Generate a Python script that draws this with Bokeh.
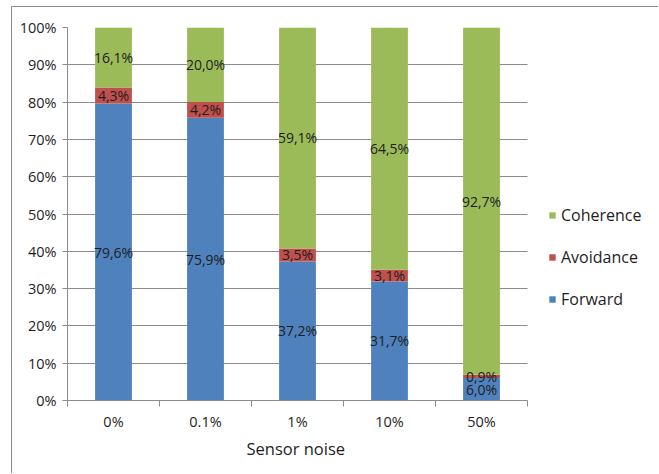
import numpy as np
from bokeh.plotting import figure
from bokeh.models import (ColumnDataSource, FixedTicker, NumeralTickFormatter,
                          Legend, LegendItem, Range1d, Grid, Title)
from bokeh.core.properties import value
from bokeh.embed import file_html
from bokeh.resources import INLINE

# Share of behaviour (in %) per sensor noise level
noise_levels = ["0%", "0.1%", "1%", "10%", "50%"]
forward = [79.6, 75.9, 37.2, 31.7, 6.0]
avoidance = [4.3, 4.2, 3.5, 3.1, 0.9]
coherence = [16.1, 20.0, 59.1, 64.5, 92.7]

series_names = ["Forward", "Avoidance", "Coherence"]
colors = ["#4F81BD", "#C0504D", "#9BBB59"]
y_ticks = [0.0, 0.1, 0.2, 0.3, 0.4, 0.5, 0.6, 0.7, 0.8, 0.9, 1.0]
x_title = "Sensor noise"

FONT = "Open Sans"
TEXT = "#1e1e1e"
GRID = "#8c8c8c"

# canvas layout (pixels)
W, H = 647, 467
LEFT, TOP, BOTTOM, RIGHT = 55, 20, 74, 4
PLOT_W = 460                      # width used by the bars / axis
frame_w = W - LEFT - RIGHT        # frame also hosts the legend
n = len(noise_levels)
x_end = n * frame_w / PLOT_W

# positions of the categories on a numeric axis (centres of unit slots)
xs = np.arange(n) + 0.5
vals = np.array([forward, avoidance, coherence], dtype=float)
shares = vals / vals.sum(axis=0)           # 100 % stacked
bottoms = np.vstack([np.zeros(n), np.cumsum(shares, axis=0)[:-1]])
centres = bottoms + shares / 2

source = ColumnDataSource(dict(x=xs, **{nm: shares[i] for i, nm in enumerate(series_names)}))

p = figure(width=W, height=H, output_backend="svg", toolbar_location=None,
           x_range=Range1d(0, x_end), y_range=Range1d(0, 1),
           min_border_left=LEFT, min_border_top=TOP, min_border_right=RIGHT,
           min_border_bottom=BOTTOM)
p.margin = (6, 0, 0, 11)
p.styles = {"border-top": "1px solid #8c8c8c", "border-left": "1px solid #8c8c8c"}
p.outline_line_color = None
p.background_fill_color = "white"
p.border_fill_color = "white"

# horizontal gridlines limited to the bar area
p.xgrid.visible = False
p.ygrid.visible = False
if "cross_bounds" in Grid.properties():
    g = Grid(dimension=1, ticker=FixedTicker(ticks=y_ticks), cross_bounds=(0, n),
             grid_line_color=GRID, grid_line_width=1)
    p.add_layout(g, "center")
else:
    p.segment(x0=[0] * len(y_ticks), x1=[n] * len(y_ticks), y0=y_ticks, y1=y_ticks,
              line_color=GRID, line_width=1)

bars = p.vbar_stack(series_names, x="x", width=0.4, source=source,
                    color=colors, line_color=None)

# value labels, centred in each segment
lab_x, lab_y, lab_t = [], [], []
for i in range(len(series_names)):
    for j in range(n):
        lab_x.append(xs[j])
        lab_y.append(centres[i, j])
        lab_t.append(f"{vals[i, j]:.1f}".replace(".", ",") + "%")
p.text(x=lab_x, y=lab_y, text=lab_t, text_align="center", text_baseline="middle",
       text_font=value(FONT), text_font_size="14px", text_color=TEXT)

# y axis
p.yaxis.ticker = FixedTicker(ticks=y_ticks, minor_ticks=[])
p.yaxis.formatter = NumeralTickFormatter(format="0%")
p.yaxis.axis_line_color = GRID
p.yaxis.major_tick_line_color = GRID
p.yaxis.major_tick_out = 5
p.yaxis.major_tick_in = 0
p.yaxis.major_label_text_font = FONT
p.yaxis.major_label_text_font_size = "14.5px"
p.yaxis.major_label_text_color = TEXT
p.yaxis.major_label_standoff = 6

# x axis: labels at slot centres, tick marks at slot boundaries
p.xaxis.bounds = (0, n)
p.xaxis.ticker = FixedTicker(ticks=list(xs), minor_ticks=list(range(n + 1)))
p.xaxis.major_label_overrides = {float(x): lab for x, lab in zip(xs, noise_levels)}
p.xaxis.major_tick_line_color = None
p.xaxis.major_tick_out = 0
p.xaxis.major_tick_in = 0
p.xaxis.minor_tick_line_color = GRID
p.xaxis.minor_tick_out = 6
p.xaxis.minor_tick_in = 0
p.xaxis.axis_line_color = GRID
p.xaxis.major_label_text_font = FONT
p.xaxis.major_label_text_font_size = "14.5px"
p.xaxis.major_label_text_color = TEXT
p.xaxis.major_label_standoff = 5

# axis title, centred under the bar area (not the legend)
p.add_layout(Title(text=x_title, align="left", offset=PLOT_W / 2 - 51,
                   text_font=FONT, text_font_size="16.5px", text_font_style="normal",
                   text_color=TEXT, standoff=2), "below")

legend = Legend(items=[LegendItem(label=series_names[i], renderers=[bars[i]])
                       for i in (2, 1, 0)],
                location=(PLOT_W + 21, 90))
legend.border_line_color = None
legend.background_fill_alpha = 0
legend.padding = 0
legend.margin = 0
legend.glyph_width = 8
legend.glyph_height = 8
legend.label_standoff = 5
legend.label_height = 20
legend.spacing = 20
legend.label_text_font = FONT
legend.label_text_font_size = "16px"
legend.label_text_color = TEXT
p.add_layout(legend)

open("out.html", "w").write(file_html(p, INLINE))
